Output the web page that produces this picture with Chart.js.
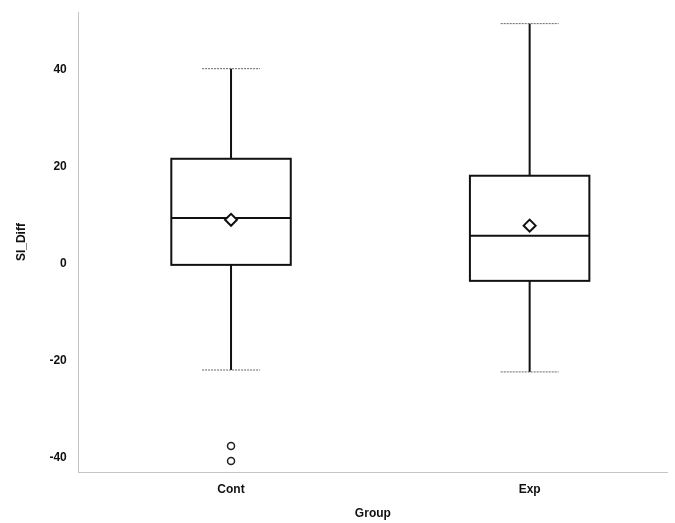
<!DOCTYPE html>
<html><head><meta charset="utf-8">
<script src="https://cdn.jsdelivr.net/npm/chart.js@4"></script>
<style>html,body{margin:0;padding:0;background:#fff}#wrap{width:675px;height:523px}</style>
</head><body><div id="wrap"><canvas id="c"></canvas></div>
<script>
const categories = ['Cont', 'Exp'];
const whiskerLow = [-21.9, -22.3];
const q1 = [-0.2, -3.5];
const medians = [9.5, 5.8];
const q3 = [21.7, 18.2];
const whiskerHigh = [40.3, 49.6];
const means = [9.1, 7.9];
const outliersCont = [-37.6, -40.7];
const outliersExp = [];
const yTicks = [-40, -20, 0, 20, 40];

const boxPlugin = {
  id: 'boxPlot',
  beforeDatasetsDraw(chart) {
    const ctx = chart.ctx, xs = chart.scales.x, ys = chart.scales.y;
    const boxHalf = 0.2, capHalf = 0.097;
    ctx.save();
    categories.forEach((c, i) => {
      const xv = i + 1;
      const xc = xs.getPixelForValue(xv);
      const xl = xs.getPixelForValue(xv - boxHalf), xr = xs.getPixelForValue(xv + boxHalf);
      const cl = xs.getPixelForValue(xv - capHalf), cr = xs.getPixelForValue(xv + capHalf);
      const yq1 = ys.getPixelForValue(q1[i]), yq3 = ys.getPixelForValue(q3[i]);
      const ymed = ys.getPixelForValue(medians[i]);
      const ylo = ys.getPixelForValue(whiskerLow[i]), yhi = ys.getPixelForValue(whiskerHigh[i]);
      ctx.strokeStyle = '#111'; ctx.lineWidth = 2;
      ctx.beginPath();
      ctx.moveTo(xc, yq3); ctx.lineTo(xc, yhi);
      ctx.moveTo(xc, yq1); ctx.lineTo(xc, ylo);
      ctx.stroke();
      ctx.strokeStyle = '#666'; ctx.lineWidth = 1;
      ctx.setLineDash([2, 1]);
      ctx.beginPath();
      ctx.moveTo(cl, yhi); ctx.lineTo(cr, yhi);
      ctx.moveTo(cl, ylo); ctx.lineTo(cr, ylo);
      ctx.stroke();
      ctx.setLineDash([]);
      ctx.fillStyle = '#fff';
      ctx.fillRect(xl, yq3, xr - xl, yq1 - yq3);
      ctx.strokeStyle = '#111'; ctx.lineWidth = 2;
      ctx.strokeRect(xl, yq3, xr - xl, yq1 - yq3);
      ctx.beginPath();
      ctx.moveTo(xl, ymed); ctx.lineTo(xr, ymed);
      ctx.stroke();
    });
    ctx.restore();
  }
};

const font = { family: 'Liberation Sans, Arial, sans-serif', size: 12, weight: 'bold' };

new Chart(document.getElementById('c'), {
  type: 'scatter',
  data: {
    datasets: [
      {
        label: 'Mean',
        data: categories.map((c, i) => ({ x: i + 1, y: means[i] })),
        pointStyle: 'rectRot', pointRadius: 6, pointBorderWidth: 2,
        borderColor: '#111', backgroundColor: '#fff'
      },
      {
        label: 'Outliers',
        data: [
          ...outliersCont.map(v => ({ x: 1, y: v })),
          ...outliersExp.map(v => ({ x: 2, y: v }))
        ],
        pointStyle: 'circle', pointRadius: 3.5, pointBorderWidth: 1.5,
        borderColor: '#222', backgroundColor: '#fff'
      }
    ]
  },
  options: {
    responsive: true, maintainAspectRatio: false, animation: false,
    layout: { padding: { top: 12, right: 7, left: 14, bottom: 2 } },
    plugins: { legend: { display: false }, tooltip: { enabled: false } },
    scales: {
      x: {
        type: 'linear', min: 0.49, max: 2.46,
        afterBuildTicks: s => { s.ticks = categories.map((c, i) => ({ value: i + 1 })); },
        ticks: { callback: v => categories[v - 1], color: '#111', font, padding: 10 },
        grid: { display: false, drawTicks: false },
        border: { display: true, color: '#c4c4c4', dash: [1, 3], width: 1 },
        title: { display: true, text: 'Group', color: '#111', font, padding: { top: 0, bottom: 0 } }
      },
      y: {
        min: -43, max: 52,
        afterBuildTicks: s => { s.ticks = yTicks.map(v => ({ value: v })); },
        afterFit: s => { s.paddingTop = 0; s.paddingBottom = 0; },
        ticks: { color: '#111', font, padding: 12 },
        grid: { display: false, drawTicks: false },
        border: { display: true, color: '#c4c4c4', dash: [1, 3], width: 1 },
        title: { display: true, text: 'SI_Diff', color: '#111', font, padding: { top: 0, bottom: 9 } }
      }
    }
  },
  plugins: [boxPlugin]
});
</script>
</body></html>
